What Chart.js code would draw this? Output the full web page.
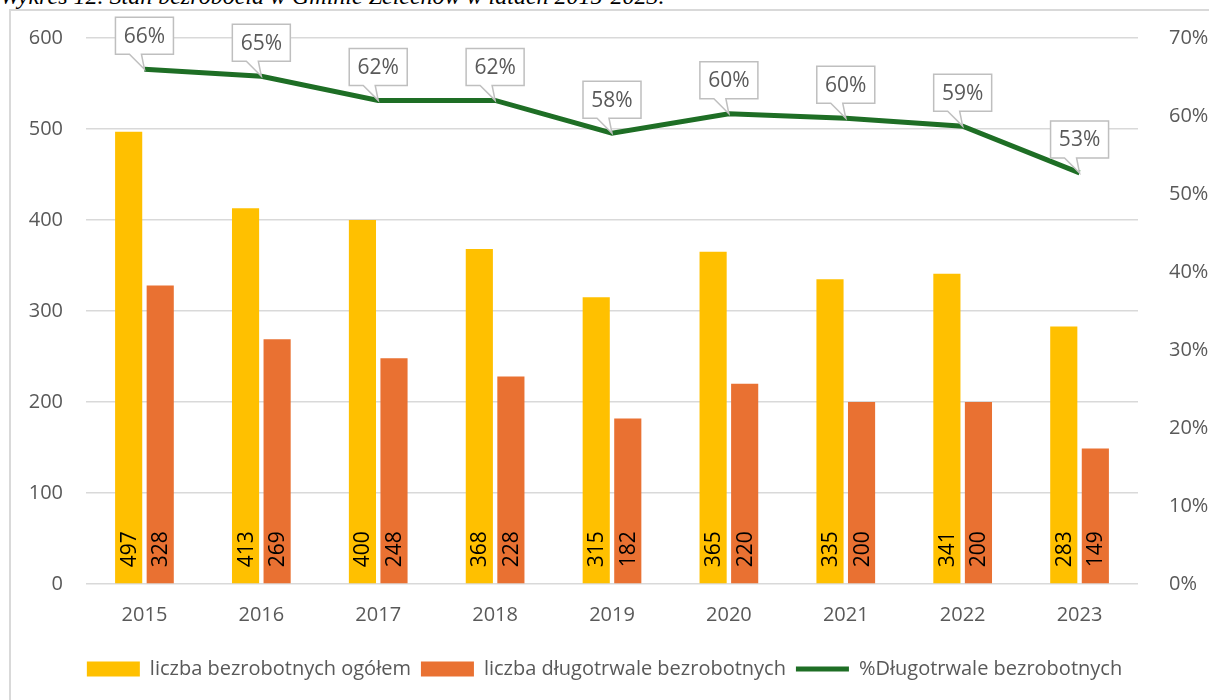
<!DOCTYPE html>
<html>
<head>
<meta charset="utf-8">
<script src="https://cdn.jsdelivr.net/npm/chart.js@4.4.0/dist/chart.umd.min.js"></script>
<style>
  html, body { margin: 0; padding: 0; background: #fff; overflow: hidden; }
  #wrap { position: relative; width: 1209px; height: 700px; overflow: hidden; }
  #caption { position: absolute; left: 0; top: -17px; font: italic 24px "Liberation Serif", serif; color: #000; white-space: nowrap; }
  #frame { position: absolute; left: 9px; top: 9px; width: 1300px; height: 800px; border: 2px solid #d9d9d9; }
  canvas { position: absolute; left: 0; top: 0; }
</style>
</head>
<body>
<div id="wrap">
  <div id="caption">Wykres 12. Stan bezrobocia w Gminie Żelechów w latach 2015-2023.</div>
  <div id="frame"></div>
  <canvas id="chart" width="1209" height="700"></canvas>
</div>
<script>
const years = ["2015", "2016", "2017", "2018", "2019", "2020", "2021", "2022", "2023"];
const totalUnemployed = [497, 413, 400, 368, 315, 365, 335, 341, 283];
const longTermUnemployed = [328, 269, 248, 228, 182, 220, 200, 200, 149];
const longTermShare = [0.660, 0.651, 0.620, 0.620, 0.578, 0.603, 0.597, 0.587, 0.527];

const seriesNames = [
  "liczba bezrobotnych ogółem",
  "liczba długotrwale bezrobotnych",
  "%Długotrwale bezrobotnych",
];

const FONT = '"Open Sans", sans-serif';
const GREY = "#595959";

// numbers written upright inside the foot of each bar
const barLabels = {
  id: "barLabels",
  afterDatasetsDraw(chart) {
    const ctx = chart.ctx;
    chart.data.datasets.forEach((ds, i) => {
      if (ds.type !== "bar") return;
      chart.getDatasetMeta(i).data.forEach((el, j) => {
        ctx.save();
        ctx.translate(el.x, el.base - 16);
        ctx.rotate(-Math.PI / 2);
        ctx.font = "21px " + FONT;
        ctx.fillStyle = "#000";
        ctx.textAlign = "left";
        ctx.textBaseline = "middle";
        ctx.fillText(ds.data[j], 0, 1);
        ctx.restore();
      });
    });
  },
};

// callout boxes over the line points
const callouts = {
  id: "callouts",
  afterDatasetsDraw(chart) {
    const ctx = chart.ctx;
    chart.data.datasets.forEach((ds, i) => {
      if (ds.type !== "line") return;
      chart.getDatasetMeta(i).data.forEach((pt, j) => {
        const w = 58, h = 37;
        const x = pt.x, y = pt.y;
        const bx = x - w / 2, by = y - 15 - h;
        ctx.save();
        ctx.beginPath();
        ctx.moveTo(bx, by);
        ctx.lineTo(bx + w, by);
        ctx.lineTo(bx + w, by + h);
        ctx.lineTo(x - 3, by + h);
        ctx.lineTo(x, y);
        ctx.lineTo(x - 15, by + h);
        ctx.lineTo(bx, by + h);
        ctx.closePath();
        ctx.fillStyle = "#fff";
        ctx.fill();
        ctx.strokeStyle = "#bfbfbf";
        ctx.lineWidth = 1.5;
        ctx.stroke();
        ctx.font = "21px " + FONT;
        ctx.fillStyle = GREY;
        ctx.textAlign = "center";
        ctx.textBaseline = "middle";
        ctx.fillText(Math.round(ds.data[j] * 100) + "%", x, by + h / 2 + 1);
        ctx.restore();
      });
    });
  },
};

new Chart(document.getElementById("chart"), {
  data: {
    labels: years,
    datasets: [
      {
        type: "line",
        label: seriesNames[2],
        data: longTermShare,
        yAxisID: "y1",
        borderColor: "#1e6e25",
        backgroundColor: "#1e6e25",
        borderWidth: 5,
        pointRadius: 0,
        pointStyle: "line",
        tension: 0,
        order: 1,
      },
      {
        type: "bar",
        label: seriesNames[0],
        data: totalUnemployed,
        yAxisID: "y",
        backgroundColor: "#ffc000",
        pointStyle: "rect",
        categoryPercentage: 0.54,
        barPercentage: 0.86,
        order: 2,
      },
      {
        type: "bar",
        label: seriesNames[1],
        data: longTermUnemployed,
        yAxisID: "y",
        backgroundColor: "#e97132",
        pointStyle: "rect",
        categoryPercentage: 0.54,
        barPercentage: 0.86,
        order: 2,
      },
    ],
  },
  options: {
    responsive: false,
    animation: false,
    layout: { padding: { top: 38, bottom: 11, left: 0, right: 0 } },
    plugins: {
      tooltip: { enabled: false },
      legend: {
        position: "bottom",
        labels: {
          usePointStyle: true,
          pointStyleWidth: 53,
          boxHeight: 15,
          padding: 10,
          color: GREY,
          font: { family: FONT, size: 20 },
          sort: (a, b) => [1, 2, 0].indexOf(a.datasetIndex) - [1, 2, 0].indexOf(b.datasetIndex),
        },
      },
    },
    scales: {
      x: {
        grid: { display: false },
        border: { display: false },
        ticks: { color: GREY, font: { family: FONT, size: 20 }, padding: 11 },
        afterFit: (s) => { s.height = 65; },
      },
      y: {
        position: "left",
        min: 0,
        max: 600,
        ticks: { stepSize: 100, color: GREY, font: { family: FONT, size: 20 }, padding: 23 },
        grid: { color: "#d9d9d9", lineWidth: 1.5, drawTicks: false },
        border: { display: false },
        afterFit: (s) => { s.width = 86; },
      },
      y1: {
        position: "right",
        min: 0,
        max: 0.7,
        ticks: {
          stepSize: 0.1,
          color: GREY,
          font: { family: FONT, size: 20 },
          padding: 23,
          callback: (v) => Math.round(v * 100) + "%",
        },
        grid: { display: false },
        border: { display: false },
        afterFit: (s) => { s.width = 71; },
      },
    },
  },
  plugins: [barLabels, callouts],
});
</script>
</body>
</html>
